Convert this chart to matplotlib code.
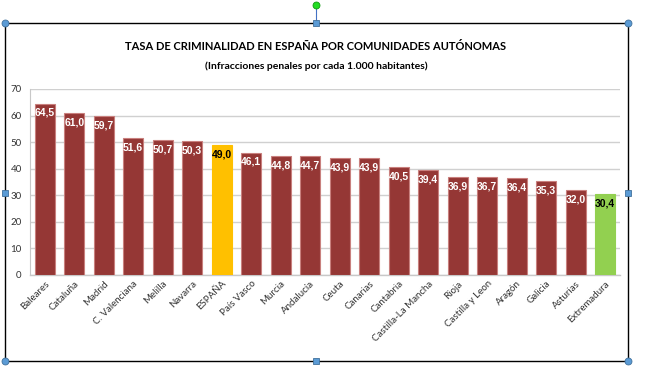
import numpy as np
import matplotlib
matplotlib.use("Agg")
import matplotlib.pyplot as plt
from matplotlib.lines import Line2D
from matplotlib.patches import Rectangle

# Data
regiones = ["Baleares", "Cataluña", "Madrid", "C. Valenciana", "Melilla", "Navarra",
            "ESPAÑA", "País Vasco", "Murcia", "Andalucía", "Ceuta", "Canarias",
            "Cantabria", "Castilla-La Mancha", "Rioja", "Castilla y Leon", "Aragón",
            "Galicia", "Asturias", "Extremadura"]
tasa = [64.5, 61.0, 59.7, 51.6, 50.7, 50.3, 49.0, 46.1, 44.8, 44.7, 43.9, 43.9,
        40.5, 39.4, 36.9, 36.7, 36.4, 35.3, 32.0, 30.4]
destacados = {"ESPAÑA": "#FFC000", "Extremadura": "#92D050"}

W, H = 650, 391
fig = plt.figure(figsize=(W/100, H/100), dpi=100)

# Axes placement (pixels -> fractions)
ax = fig.add_axes([30/W, 1 - 275/H, 590/W, (275 - 89)/H])

colores = [destacados.get(r, "#953735") for r in regiones]
bordes = [destacados.get(r, "#C9807E") for r in regiones]
x = np.arange(len(regiones))
ax.bar(x, tasa, width=0.68, color=colores, edgecolor=bordes, linewidth=0.8, zorder=3)

for xi, v, r in zip(x, tasa, regiones):
    c = "black" if r in destacados else "white"
    ax.text(xi, v - 1.6, f"{v:.1f}".replace(".", ","), ha="center", va="top",
            fontsize=7.5, fontweight="bold", color=c, family="Liberation Sans", zorder=4)

ax.set_xlim(-0.5, len(regiones) - 0.5)
ax.set_ylim(0, 70)
ax.set_yticks(range(0, 71, 10))
ax.yaxis.grid(True, color="#D0D0D0", linewidth=1.0, zorder=0)
ax.set_axisbelow(True)
for s in ["top", "right"]:
    ax.spines[s].set_visible(False)
ax.spines["left"].set_color("#C8C8C8")
ax.spines["bottom"].set_color("#C8C8C8")
ax.spines["bottom"].set_linewidth(1.0)
ax.tick_params(axis="both", length=0, labelsize=7, colors="#333333", pad=6)
ax.tick_params(axis="x", pad=3)
ax.set_xticks(x)
ax.set_xticklabels(regiones, rotation=45, ha="right", rotation_mode="anchor",
                   family="Lato", fontsize=7)
for lab in ax.get_yticklabels():
    lab.set_family("Lato")

fig.text(316/W, 1 - 47/H, "TASA DE CRIMINALIDAD EN ESPAÑA POR COMUNIDADES AUTÓNOMAS",
         ha="center", va="center", fontsize=8.0, fontweight="bold", family="Lato")
fig.text(316/W, 1 - 66/H, "(Infracciones penales por cada 1.000 habitantes)",
         ha="center", va="center", fontsize=7.5, fontweight="bold", family="Lato")

# Selection frame and handles
x0, x1 = 5/W, 628/W
y0, y1 = 1 - 361/H, 1 - 23/H
fig.add_artist(Rectangle((x0, y0), x1 - x0, y1 - y0, transform=fig.transFigure,
                         fill=False, edgecolor="black", linewidth=1.0))
xm, ym = 316/W, 1 - 193/H
fig.add_artist(Line2D([xm, xm], [y1, 1 - 5/H], transform=fig.transFigure,
                      color="#4472C4", linewidth=0.8))
for px, py in [(x0, y0), (x0, y1), (x1, y0), (x1, y1)]:
    fig.add_artist(Line2D([px], [py], transform=fig.transFigure, marker="o",
                          markersize=5, markerfacecolor="#5B9BD5",
                          markeredgecolor="#41719C", markeredgewidth=0.6))
for px, py in [(xm, y0), (xm, y1), (x0, ym), (x1, ym)]:
    fig.add_artist(Line2D([px], [py], transform=fig.transFigure, marker="s",
                          markersize=5, markerfacecolor="#5B9BD5",
                          markeredgecolor="#41719C", markeredgewidth=0.6))
fig.add_artist(Line2D([xm], [1 - 5/H], transform=fig.transFigure, marker="o",
                      markersize=5, markerfacecolor="#22DD22",
                      markeredgecolor="#119911", markeredgewidth=0.6))

fig.savefig("out.png", dpi=100)
